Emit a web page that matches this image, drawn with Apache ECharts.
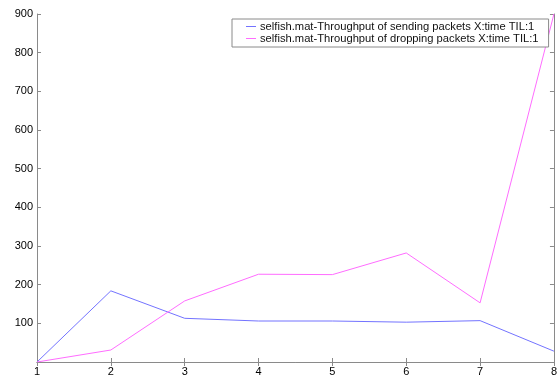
<!DOCTYPE html>
<html><head><meta charset="utf-8">
<script src="https://cdn.jsdelivr.net/npm/echarts@6/dist/echarts.min.js"></script>
<style>html,body{margin:0;padding:0;background:#fff}#c{width:560px;height:379px}</style>
</head><body><div id="c"></div>
<script>
const xValues = [1, 2, 3, 4, 5, 6, 7, 8];
const sendingValues = [0, 184, 113, 106, 106, 103, 107, 28];
const droppingValues = [0, 31, 158, 227, 226, 282, 153, 900];
const seriesNames = [
  'selfish.mat-Throughput of sending packets X:time TIL:1',
  'selfish.mat-Throughput of dropping packets X:time TIL:1'
];
const yTicks = [0, 100, 200, 300, 400, 500, 600, 700, 800, 900];

const font = 'Liberation Sans, Arial, Helvetica, sans-serif';
const axisColor = '#8a8a8a';
const chart = echarts.init(document.getElementById('c'));
const pairs = vals => xValues.map((x, i) => [x, vals[i]]);
const baseX = {
  type: 'value', min: 1, max: 8, interval: 1,
  axisLine: { show: true, lineStyle: { color: axisColor, width: 1 } },
  axisTick: { show: true, inside: true, length: 4, lineStyle: { color: axisColor } },
  splitLine: { show: false }
};
const baseY = {
  type: 'value', min: yTicks[0], max: yTicks[yTicks.length - 1], interval: 100,
  axisLine: { show: true, lineStyle: { color: axisColor, width: 1 } },
  axisTick: { show: true, inside: true, length: 4, lineStyle: { color: axisColor } },
  splitLine: { show: false }
};
chart.setOption({
  animation: false,
  backgroundColor: '#fff',
  grid: { left: 37, right: 6, top: 14, bottom: 17 },
  legend: {
    orient: 'vertical', left: 232, top: 19,
    backgroundColor: '#fff', borderColor: axisColor, borderWidth: 1,
    padding: [2, 10, 3, 14], itemGap: 1, itemWidth: 10, itemHeight: 12,
    icon: 'path://M0,6H10V7H0Z',
    textStyle: { fontFamily: font, fontSize: 11.2, color: '#111', padding: [0, 0, 0, -1] },
    data: seriesNames
  },
  xAxis: [
    Object.assign({}, baseX, { position: 'bottom',
      axisLabel: { show: true, color: '#000', fontFamily: font, fontSize: 11, margin: 4 } }),
    Object.assign({}, baseX, { position: 'top', axisLabel: { show: false } })
  ],
  yAxis: [
    Object.assign({}, baseY, { position: 'left',
      axisLabel: { show: true, color: '#000', fontFamily: font, fontSize: 11, margin: 4,
        formatter: v => v === 0 ? '' : String(v) } }),
    Object.assign({}, baseY, { position: 'right', axisLabel: { show: false } })
  ],
  series: [
    { name: seriesNames[0], type: 'line', data: pairs(sendingValues), showSymbol: false,
      symbol: 'none', lineStyle: { color: '#7373ff', width: 1 }, itemStyle: { color: '#7373ff' } },
    { name: seriesNames[1], type: 'line', data: pairs(droppingValues), showSymbol: false,
      symbol: 'none', lineStyle: { color: '#ff6cff', width: 1 }, itemStyle: { color: '#ff6cff' } }
  ]
});
</script></body></html>
